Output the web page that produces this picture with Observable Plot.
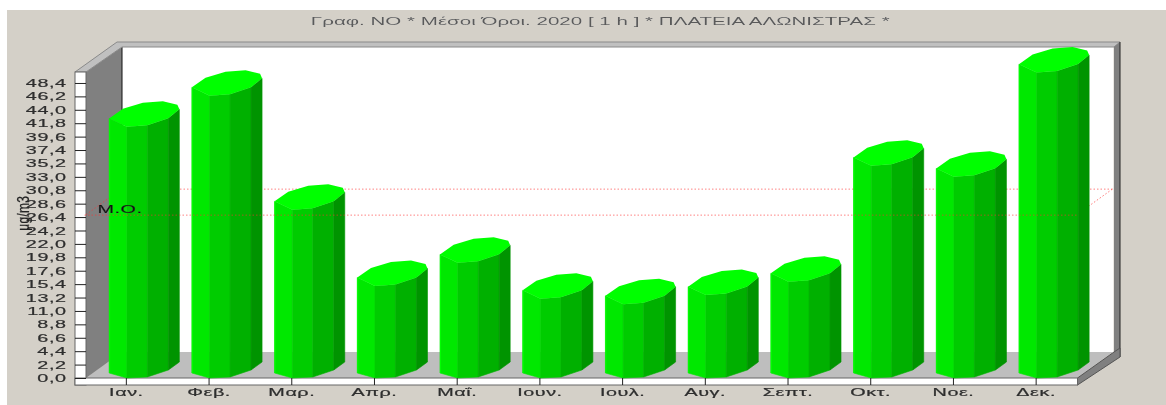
<!DOCTYPE html>
<html lang="el">
<head>
<meta charset="utf-8">
<script src="https://cdn.jsdelivr.net/npm/d3@7"></script>
<script src="https://cdn.jsdelivr.net/npm/@observablehq/plot@0.6"></script>
<style>
html,body{margin:0;padding:0;background:#fff;overflow:hidden}
svg{display:block;filter:blur(.35px)}
svg text{font-family:"Liberation Sans",Arial,sans-serif;stroke:currentColor;stroke-width:.2px;letter-spacing:.3px}
.title text{filter:drop-shadow(.8px .9px 0 #fff);stroke:none;letter-spacing:0}
</style>
</head>
<body>
<div id="chart"></div>
<script>
const months = ["Ιαν.","Φεβ.","Μαρ.","Απρ.","Μαΐ.","Ιουν.","Ιουλ.","Αυγ.","Σεπτ.","Οκτ.","Νοε.","Δεκ."];
const values = [41.2,46.3,27.6,15.1,18.9,13.0,12.1,13.6,15.8,34.8,33.0,50.1];
const meanValue = [26.8];
const yTicks = [0,2.2,4.4,6.6,8.8,11,13.2,15.4,17.6,19.8,22,24.2,26.4,28.6,30.8,33,35.2,37.4,39.6,41.8,44,46.2,48.4];
const titleText = "Γραφ. ΝΟ * Μέσοι Όροι. 2020 [ 1 h ] * ΠΛΑΤΕΙΑ ΑΛΩΝΙΣΤΡΑΣ *";
const unitText = "μg/m3";
const meanText = "Μ.Ο.";
const rows = months.map((m,i)=>({month:m,value:values[i]}));

const faceColors = ["#00e800","#00cc00","#00b000","#009400"];
const topOutline = [[-16.7,-8.4],[1,0],[21.5,-1.5],[42.5,-8.5],[53.5,-17.5],[51.5,-22],[37,-25.5],[17,-24],[-3,-18]];
const baseOutline = [[-16.7,-5],[1,0],[21.5,-1],[42.5,-8],[53.5,-16]];

function poly(parent, pts, fill, stroke, sw){
  return parent.append("polygon").attr("points",pts.map(p=>p.join(",")).join(" "))
    .attr("fill",fill).attr("stroke",stroke||"none").attr("stroke-width",sw||1);
}
function chrome(index, scales, channels, dims){
  const g = d3.create("svg:g");
  const y0 = scales.y(0), yTop = dims.marginTop, R = dims.width-dims.marginRight;
  const xL = 86, xS = 75, dx = 36, dy = 26, floorB = y0+7;
  g.append("rect").attr("x",7).attr("y",10).attr("width",dims.width).attr("height",dims.height).attr("fill","#d4d0c8");
  g.append("rect").attr("x",xL+dx).attr("y",yTop-dy+1).attr("width",R-xL+.5).attr("height",y0-yTop).attr("fill","#fff");
  poly(g,[[xL+dx,y0-dy],[R+dx,y0-dy],[R,y0],[xL,y0]],"#bebebe");
  poly(g,[[xL,yTop],[xL+dx,yTop-dy+1],[xL+dx,y0-dy],[xL,y0]],"#808080");
  g.append("line").attr("x1",xL+dx).attr("x2",xL+dx).attr("y1",yTop-dy+1).attr("y2",y0-dy).attr("stroke","#111");
  poly(g,[[xS,yTop],[xS+42,yTop-30],[R+43,yTop-30],[R+37,yTop-25],[xL+dx,yTop-25],[xL,yTop]],"#c0c0c0","#8a8a8a");
  poly(g,[[R+37,yTop-25],[R+43,yTop-30],[R+43,y0-21],[R+37,y0-26]],"#808080");
  g.append("line").attr("x1",R+43).attr("x2",R+43).attr("y1",yTop-30).attr("y2",y0-21).attr("stroke","#222");
  poly(g,[[R+.5,y0],[R+37,y0-26],[R+43,y0-30],[R+43,y0-21],[R+.5,floorB]],"#808080","#555");
  g.append("rect").attr("x",xS).attr("y",yTop).attr("width",xL-xS).attr("height",floorB-yTop).attr("fill","#fff").attr("stroke","#666");
  g.append("rect").attr("x",xS).attr("y",y0).attr("width",R-xS+.5).attr("height",floorB-y0).attr("fill","#fff").attr("stroke","#666");
  const ym = scales.y(meanValue[0]);
  [[xL,ym,xL+dx,ym-dy],[R,ym,R+dx,ym-dy]].forEach(([a,b,c,d])=>{
    g.append("line").attr("x1",a).attr("y1",b).attr("x2",c).attr("y2",d)
      .attr("stroke","#ff3030").attr("stroke-dasharray","1.5 2").attr("stroke-opacity",.65);
  });
  return g.node();
}
function bars3d(index, scales){
  const g = d3.create("svg:g");
  const bw = scales.x.bandwidth ? scales.x.bandwidth() : 0;
  const yBase = scales.y(0);
  for (const i of index){
    const cx = scales.x(rows[i].month)+bw/2, yT = scales.y(rows[i].value);
    for (let f=0;f<4;f++){
      poly(g,[
        [cx+topOutline[f][0],yT+topOutline[f][1]],
        [cx+topOutline[f+1][0],yT+topOutline[f+1][1]],
        [cx+baseOutline[f+1][0],yBase+baseOutline[f+1][1]],
        [cx+baseOutline[f][0],yBase+baseOutline[f][1]]
      ],faceColors[f],faceColors[f],.6);
    }
    poly(g,topOutline.map(([a,b])=>[cx+a,yT+b]),"#00ff00");
    g.append("line").attr("x1",cx-16.2).attr("x2",cx-16.2).attr("y1",yT-8).attr("y2",yBase-5).attr("stroke","#00ff00");
  }
  return g.node();
}
const fmt = d=>d.toFixed(1).replace(".",",");
const chart = Plot.plot({
  width:1166,height:405,marginLeft:84.5,marginRight:89,marginTop:72,marginBottom:27,
  style:{background:"#fff",color:"#2e2e2e",fontSize:"11px",overflow:"visible"},
  x:{domain:months,padding:0,round:false,label:null},
  y:{domain:[0,50.2],label:null},
  marks:[
    chrome,
    Plot.ruleY(meanValue,{y:d=>d,dx:36,dy:-26,stroke:"#ff3030",strokeOpacity:.6,strokeDasharray:"1.5 2"}),
    Plot.barY(rows,{x:"month",y:"value",fill:"#00cc00",render:(I,s)=>bars3d(I,s)}),
    Plot.ruleY(meanValue,{y:d=>d,stroke:"#ff3030",strokeOpacity:.6,strokeDasharray:"1.5 2"}),
    Plot.axisY({ticks:yTicks,tickFormat:fmt,tickSize:11,tickPadding:9,dx:1.5,stroke:"#222",label:null}),
    Plot.axisX({tickSize:7,tickPadding:3,stroke:"#222",label:null}),
    Plot.text(meanValue,{y:d=>d,text:()=>meanText,frameAnchor:"left",textAnchor:"start",dx:12.5,dy:-5.5,fill:"#111"}),
    Plot.text([unitText],{text:d=>d,y:()=>27.1,frameAnchor:"left",textAnchor:"middle",rotate:-90,dx:-61.5,fill:"#222",fontSize:12}),
    Plot.text([titleText],{text:d=>d,frameAnchor:"top",lineAnchor:"middle",dx:19,dy:-51,fill:"#5a5a5a",className:"title"})
  ]
});
chart.querySelectorAll("text").forEach(t=>{
  const tr = t.getAttribute("transform")||"";
  if(tr.includes("rotate")) t.setAttribute("transform",tr+" scale(1,1.4)");
  else if(t.textContent===titleText) t.setAttribute("transform",tr+" scale(1.87,1)");
  else t.setAttribute("transform",tr+" scale(1.8,1)");
});
document.getElementById("chart").append(chart);
</script>
</body>
</html>
